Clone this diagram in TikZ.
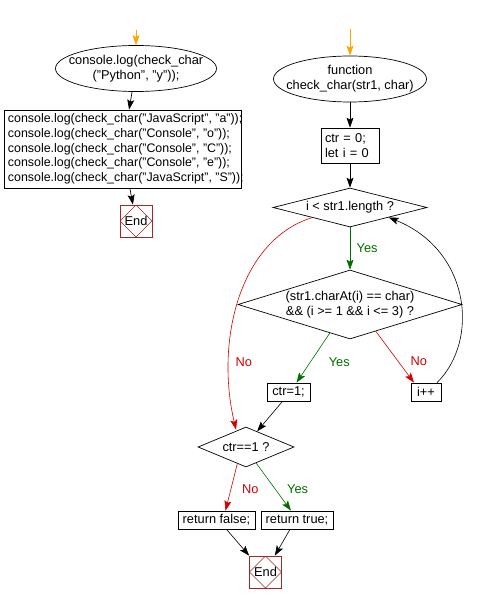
\documentclass[tikz,border=0pt]{standalone}
\usepackage{fontspec}
\setmainfont{Liberation Sans}
\usepackage{xcolor}
\usepackage{tikz}
\usetikzlibrary{shapes,arrows.meta,positioning,calc}
\definecolor{flowgreen}{RGB}{0,110,0}
\definecolor{flowred}{RGB}{210,0,0}
\definecolor{endred}{RGB}{160,40,40}
\definecolor{startorange}{RGB}{255,165,0}

\begin{document}
\begin{tikzpicture}[x=1pt, y=-1pt, line width=0.7pt,
    font=\fontsize{12.8}{14.75}\selectfont,
    tip/.style={-{Stealth[length=10pt,width=7pt,inset=2pt]}},
    term/.style={draw, ellipse, minimum width=#1, minimum height=46pt, inner sep=0pt},
    proc/.style={draw, rectangle, align=left, inner xsep=4pt, inner ysep=1pt, minimum height=18pt},
    dec/.style={draw, diamond, inner sep=0pt},
    endbox/.style={draw=endred, minimum size=32pt, inner sep=0pt,
        path picture={\draw[endred, line width=0.6pt] (path picture bounding box.north) -- (path picture bounding box.east)
            -- (path picture bounding box.south) -- (path picture bounding box.west) -- cycle;}},
    yes/.style={text=flowgreen}, no/.style={text=flowred}]
    \useasboundingbox (0,0) rectangle (482,604);

    % Main program
    \coordinate (mainin) at (136,30);
    \node[term=161pt] (main) at (136,68.5) {};
    \node[align=center] at (main) {console.log(check\_char\\("Python", "y"));};
    \node[proc, minimum width=237pt, minimum height=78pt] (calls) at (122.5,149) {};
    \node[anchor=west, align=left, inner sep=0pt, font=\fontsize{12.4}{14.75}\selectfont] at ([xshift=4pt]calls.west)
        {console.log(check\_char("JavaScript", "a"));\\
        console.log(check\_char("Console", "o"));\\
        console.log(check\_char("Console", "C"));\\
        console.log(check\_char("Console", "e"));\\
        console.log(check\_char("JavaScript", "S"));};
    \node[endbox] (end1) at (136,221) {End};
    \draw[startorange, tip] (mainin) -- (main);
    \draw[tip] (main) -- (calls);
    \draw[tip] (calls) -- (end1);

    % Function check_char
    \coordinate (fnin) at (350,29);
    \node[term=153pt] (fn) at (350,79) {};
    \node[align=center] at (fn) {function\\check\_char(str1, char)};
    \node[proc, text width=50pt, minimum height=35pt] (init) at (350,145.5) {ctr = 0;\\let i = 0};
    \node[dec, minimum width=154pt, minimum height=39pt] (loop) at (350,207.5) {};
    \node at (loop) {i < str1.length ?};
    \node[dec, minimum width=224pt, minimum height=69pt] (cond) at (350,304.5) {};
    \node[align=center] at (cond) {(str1.charAt(i) == char)\\\&\& (i >= 1 \&\& i <= 3) ?};
    \node[proc, minimum width=43pt] (set) at (288.5,392) {ctr=1;};
    \node[proc, minimum width=30pt] (inc) at (426,392) {i++};
    \node[dec, minimum width=96pt, minimum height=40pt] (check) at (246,447) {};
    \node at (check) {ctr==1 ?};
    \node[proc, minimum width=77pt] (retf) at (216.5,520) {return false;};
    \node[proc, minimum width=72pt] (rett) at (297,520) {return true;};
    \node[endbox] (end2) at (265.5,572) {End};

    \draw[startorange, tip] (fnin) -- (fn);
    \draw[tip] (fn) -- (init);
    \draw[tip] (init) -- (loop);
    \draw[flowgreen, line width=0.6pt, tip] (loop) -- (cond) node[yes, midway, right=3pt] {Yes};
    \draw[flowred, line width=0.6pt, tip] ($(loop.south)!0.49!(loop.west)$) .. controls (240,240) and (215,340) .. ([xshift=-10pt,yshift=-3pt]check.north)
        node[no, pos=0.75, right=3pt] {No};
    \draw[flowgreen, line width=0.6pt, tip] ($(cond.south)!0.18!(cond.west)$) -- ([xshift=8pt]set.north)
        node[yes, midway, right=12pt, yshift=-4pt] {Yes};
    \draw[flowred, line width=0.6pt, tip] ($(cond.south)!0.23!(cond.east)$) -- ([xshift=-12pt]inc.north)
        node[no, midway, right=12pt, yshift=-4pt] {No};
    \draw[line width=0.6pt, tip] ([xshift=11pt]inc.north) .. controls (480,340) and (470,250) .. ($(loop.east)!0.5!(loop.south)$);
    \draw[line width=0.6pt, tip] ([xshift=-6pt]set.south) -- ($(check.north)!0.23!(check.east)$);
    \draw[flowred, line width=0.6pt, tip] ($(check.south)!0.18!(check.west)$) -- ([xshift=9pt]retf.north)
        node[no, midway, right=7pt, yshift=-2pt] {No};
    \draw[flowgreen, line width=0.6pt, tip] ($(check.south)!0.21!(check.east)$) -- ([xshift=-6pt]rett.north)
        node[yes, midway, right=10pt, yshift=-2pt] {Yes};
    \draw[line width=0.6pt, tip] ([xshift=10pt]retf.south) -- (end2.north west);
    \draw[line width=0.6pt, tip] ([xshift=-7pt]rett.south) -- ([xshift=-7pt]end2.north east);
\end{tikzpicture}
\end{document}
